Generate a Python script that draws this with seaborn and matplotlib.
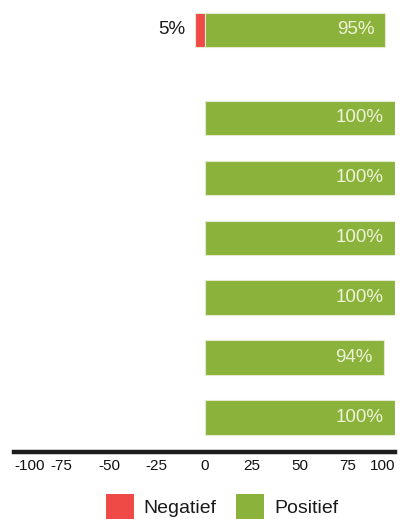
import matplotlib
matplotlib.use("Agg")
import matplotlib.pyplot as plt
from matplotlib.patches import Patch
import seaborn as sns
import pandas as pd

# ---- data ----
categories = ["Totaal", "Item 2", "Item 3", "Item 4", "Item 5", "Item 6", "Item 7"]
negatief = [5, 0, 0, 0, 0, 0, 0]
positief = [95, 100, 100, 100, 100, 94, 100]
xticks = [-100, -75, -50, -25, 0, 25, 50, 75, 100]
legend_labels = ["Negatief", "Positief"]

RED = "#ef4a45"
GREEN = "#8bb23b"
EDGE = "#e4ead0"
LABEL_LIGHT = "#eef3d8"

sns.set_theme(style="white")
plt.rcParams['font.family'] = ['Liberation Sans', 'DejaVu Sans']
plt.rcParams['axes.unicode_minus'] = False

W, H = 403, 519
fig = plt.figure(figsize=(W / 100, H / 100), dpi=100)


def px_axes(x0, y0, x1, y1):
    return fig.add_axes([x0 / W, 1 - y1 / H, (x1 - x0) / W, (y1 - y0) / H])


df = pd.DataFrame({
    "categorie": categories,
    "neg": [-v for v in negatief],
    "pos": positief,
    "negval": negatief,
})
df_top = df.iloc[:1]
df_bot = df.iloc[1:]

ax_top = px_axes(14, 0, 395, 60)
ax_bot = px_axes(14, 88, 395, 452)

BAR_W = 0.583
for ax, d in ((ax_top, df_top), (ax_bot, df_bot)):
    sns.barplot(data=d, x="neg", y="categorie", orient="h", color=RED,
                saturation=1, width=BAR_W, edgecolor=EDGE, linewidth=0.8, ax=ax)
    sns.barplot(data=d, x="pos", y="categorie", orient="h", color=GREEN,
                saturation=1, width=BAR_W, edgecolor=EDGE, linewidth=0.8, ax=ax)
    for i, (n, p) in enumerate(zip(d["negval"], d["pos"])):
        ax.text(p - 5.8, i, f"{p}%", ha="right", va="center",
                color=LABEL_LIGHT, fontsize=13.5)
        if n > 0:
            ax.text(-n - 5, i, f"{n}%", ha="right", va="center",
                    color="#1a1a1a", fontsize=13.5)
    ax.set_xlim(-100, 100)
    ax.set_xlabel("")
    ax.set_ylabel("")
    ax.set_yticks([])
    for s in ("top", "right", "left"):
        ax.spines[s].set_visible(False)

ax_top.set_ylim(0.5, -0.5)
ax_top.spines["bottom"].set_visible(False)
ax_top.set_xticks([])

ax_bot.set_ylim(5.567, -0.5)
ax_bot.spines["bottom"].set_linewidth(3.2)
ax_bot.spines["bottom"].set_color("#1c1c1c")
ax_bot.set_xticks(xticks, labels=[str(t) for t in xticks])
ax_bot.tick_params(axis="x", length=0, pad=5, labelsize=11, labelcolor="#111111")
lbls = ax_bot.get_xticklabels()
lbls[0].set_horizontalalignment("left")
lbls[-1].set_horizontalalignment("right")

handles = [Patch(facecolor=RED, edgecolor="none"), Patch(facecolor=GREEN, edgecolor="none")]
fig.legend(handles, legend_labels, loc="center", bbox_to_anchor=(222 / W, 1 - 507 / H),
           ncol=2, frameon=False, fontsize=14, handlelength=1.45, handleheight=1.65,
           handletextpad=0.5, columnspacing=1.0, labelcolor="#1a1a1a")

fig.savefig("out.png", dpi=100)
